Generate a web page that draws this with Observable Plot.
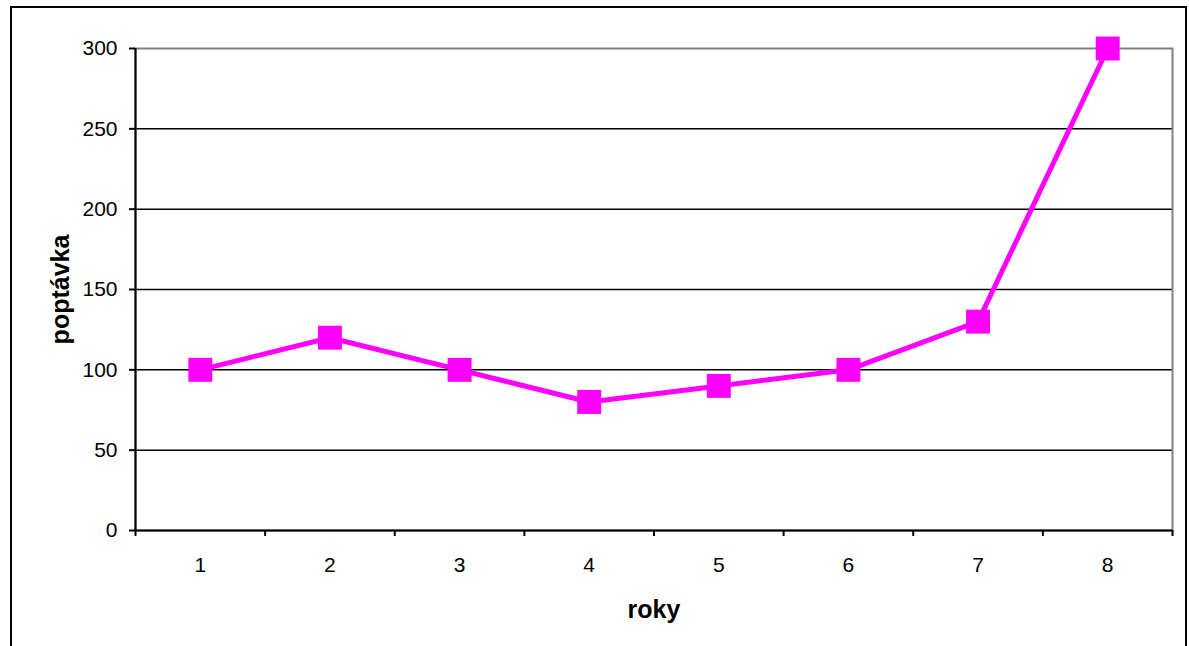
<!DOCTYPE html>
<html>
<head>
<meta charset="utf-8">
<script src="https://cdn.jsdelivr.net/npm/d3@7"></script>
<script src="https://cdn.jsdelivr.net/npm/@observablehq/plot@0.6"></script>
<style>
  html, body { margin: 0; padding: 0; background: #fff; width: 1189px; height: 646px; overflow: hidden; }
  #wrap { position: relative; width: 1189px; height: 646px; }
  #border { position: absolute; left: 10px; top: 6px; width: 1173px; height: 700px; border: 2px solid #000; box-sizing: content-box; pointer-events: none; }
  #chart { position: absolute; left: 0; top: 0; }
</style>
</head>
<body>
<div id="wrap">
  <div id="chart"></div>
  <div id="border"></div>
</div>
<script>
const years = [1, 2, 3, 4, 5, 6, 7, 8];
const demand = [100, 120, 100, 80, 90, 100, 130, 300];
const yTicks = [0, 50, 100, 150, 200, 250, 300];
const yTitle = "poptávka";
const xTitle = "roky";

const data = years.map((y, i) => ({year: y, value: demand[i]}));
const boundaries = years.map(y => y - 0.5).concat([years[years.length - 1] + 0.5]);

const chart = Plot.plot({
  width: 1189,
  height: 646,
  marginLeft: 135,
  marginRight: 17,
  marginTop: 48,
  marginBottom: 116,
  x: {domain: [boundaries[0], boundaries[boundaries.length - 1]]},
  y: {domain: [yTicks[0], yTicks[yTicks.length - 1]]},
  style: {fontFamily: "'Liberation Sans', Arial, sans-serif", fontSize: "21px", color: "#000", background: "transparent"},
  marks: [
    Plot.gridY(yTicks.slice(1, -1), {stroke: "#000", strokeOpacity: 1, strokeWidth: 1.5}),
    Plot.frame({stroke: "#808080", strokeWidth: 2}),
    Plot.axisY(yTicks, {tickSize: 6, tickPadding: 12, strokeWidth: 2, label: null, fontSize: 21, tickFormat: d => String(d)}),
    Plot.axisX(boundaries, {tickSize: 6, strokeWidth: 2, label: null, tickFormat: () => ""}),
    Plot.axisX(years, {tickSize: 0, tickPadding: 27, label: null, fontSize: 21, tickFormat: d => String(d)}),
    Plot.ruleY([yTicks[0]], {stroke: "#000", strokeWidth: 2}),
    Plot.ruleX([boundaries[0]], {stroke: "#000", strokeWidth: 2}),
    Plot.line(data, {x: "year", y: "value", stroke: "#FF00FF", strokeWidth: 5}),
    Plot.dot(data, {x: "year", y: "value", symbol: "square", r: 13.5, fill: "#FF00FF", stroke: "none"}),
    Plot.text([yTitle], {text: d => d, frameAnchor: "left", dx: -75, rotate: -90, textAnchor: "middle", lineAnchor: "middle", fontWeight: "bold", fontSize: 25, fill: "#000"}),
    Plot.text([xTitle], {text: d => d, frameAnchor: "bottom", dy: 79, textAnchor: "middle", lineAnchor: "middle", fontWeight: "bold", fontSize: 25, fill: "#000"})
  ]
});
document.getElementById("chart").appendChild(chart);
</script>
</body>
</html>
